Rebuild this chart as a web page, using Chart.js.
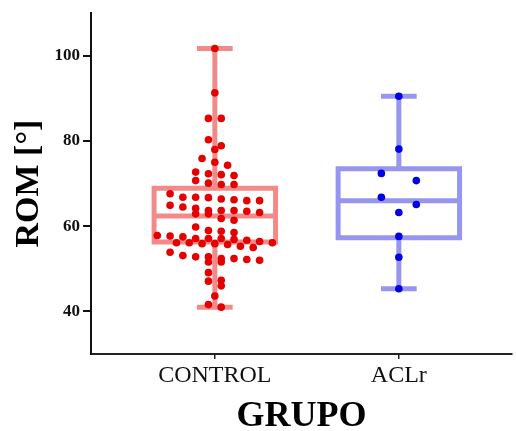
<!DOCTYPE html>
<html>
<head>
<meta charset="utf-8">
<script src="https://cdn.jsdelivr.net/npm/chart.js@4/dist/chart.umd.min.js"></script>
<style>
  html, body { margin: 0; padding: 0; background: #fff; }
  #wrap { width: 516px; height: 431px; }
</style>
</head>
<body>
<div id="wrap"><canvas id="c" width="516" height="431"></canvas></div>
<script>
// ---- data ----
const categories = ['CONTROL', 'ACLr'];
const yTicks = [40, 60, 80, 100];

const controlValues = [101.7, 91.3, 85.3, 85.3, 80.3, 78.9, 78.0, 75.9, 75.0, 74.3,
  72.7, 72.3, 72.1, 71.9, 70.7, 70.1, 69.8, 69.8,
  67.6, 66.8, 66.8, 66.7, 66.4, 66.2, 66.0, 66.0,
  64.9, 64.5, 64.2, 63.7, 63.7, 63.7, 63.5, 63.2,
  62.9, 62.9, 61.8, 61.4, 59.8, 59.0, 58.8, 58.5,
  57.8, 57.7, 57.5, 57.1, 57.1, 57.1, 56.9, 56.7,
  56.4, 56.1, 56.1, 56.1, 55.9, 55.9, 55.7, 55.3, 55.0, 53.9,
  53.1, 52.8, 52.8, 52.4, 52.4, 52.2, 52.0, 51.6, 51.6,
  49.1, 47.3, 47.1, 46.0, 43.6, 41.6, 41.0];
const aclrValues = [90.5, 78.1, 72.4, 70.7, 66.8, 65.1, 63.2, 57.6, 52.7, 45.3];

// box-plot summary (min, Q1, median, Q3, max) per group
const boxMin    = [41.0, 45.3];
const boxQ1     = [56.3, 57.3];
const boxMedian = [62.4, 66.0];
const boxQ3     = [68.9, 73.5];
const boxMax    = [101.7, 90.5];

// ---- styling ----
const lineColors  = ['rgb(242,138,138)', 'rgb(150,150,240)'];
const pointColors = ['rgb(228,0,0)', 'rgb(0,0,228)'];
const swarmSteps  = [0.0695, 0.19];
const BOX_HALF = 0.33, CAP_HALF = 0.097, ROW_BAND = 2.0, MAX_ROW = 10;

// row-centred swarm: values grouped into horizontal rows, each row centred on the group
function swarm(values, center, step) {
  const sorted = values.slice().sort((a, b) => b - a);
  const rows = [];
  let cur = [];
  sorted.forEach(v => {
    if (cur.length && (cur[0] - v >= ROW_BAND || cur.length >= MAX_ROW)) { rows.push(cur); cur = []; }
    cur.push(v);
  });
  if (cur.length) rows.push(cur);
  const pts = [];
  rows.forEach(r => r.forEach((v, i) => pts.push({ x: center + (i - (r.length - 1) / 2) * step, y: v })));
  return pts;
}

function boxDatasets(i) {
  const c = i + 1;
  const base = { type: 'scatter', showLine: true, pointRadius: 0, borderWidth: 5,
    borderColor: lineColors[i], backgroundColor: lineColors[i], fill: false,
    borderJoinStyle: 'miter', borderCapStyle: 'butt', order: 2 };
  return [
    Object.assign({}, base, { data: [
      { x: c - BOX_HALF, y: boxQ1[i] }, { x: c + BOX_HALF, y: boxQ1[i] },
      { x: c + BOX_HALF, y: boxQ3[i] }, { x: c - BOX_HALF, y: boxQ3[i] },
      { x: c - BOX_HALF, y: boxQ1[i] }, { x: c + BOX_HALF, y: boxQ1[i] }] }),
    Object.assign({}, base, { data: [{ x: c - BOX_HALF, y: boxMedian[i] }, { x: c + BOX_HALF, y: boxMedian[i] }] }),
    Object.assign({}, base, { data: [{ x: c, y: boxQ3[i] }, { x: c, y: boxMax[i] }] }),
    Object.assign({}, base, { data: [{ x: c, y: boxQ1[i] }, { x: c, y: boxMin[i] }] }),
    Object.assign({}, base, { data: [{ x: c - CAP_HALF, y: boxMax[i] }, { x: c + CAP_HALF, y: boxMax[i] }] }),
    Object.assign({}, base, { data: [{ x: c - CAP_HALF, y: boxMin[i] }, { x: c + CAP_HALF, y: boxMin[i] }] })
  ];
}

const groups = [controlValues, aclrValues];
const datasets = [];
groups.forEach((vals, i) => {
  datasets.push(...boxDatasets(i));
  datasets.push({ type: 'scatter', data: swarm(vals, i + 1, swarmSteps[i]), showLine: false,
    pointRadius: 3.8, pointBorderWidth: 0, pointBackgroundColor: pointColors[i],
    backgroundColor: pointColors[i], borderColor: pointColors[i], order: 0 });
});

const serif = "'Liberation Serif', 'Times New Roman', serif";

new Chart(document.getElementById('c'), {
  type: 'scatter',
  data: { datasets },
  options: {
    responsive: false,
    animation: false,
    events: [],
    layout: { padding: { left: 0, right: 1, top: 13, bottom: 0 } },
    plugins: { legend: { display: false }, tooltip: { enabled: false } },
    scales: {
      x: {
        type: 'linear', min: 0.327, max: 2.615,
        afterBuildTicks: s => { s.ticks = categories.map((_, i) => ({ value: i + 1 })); },
        afterFit: s => { s.height = 77; },
        ticks: { callback: v => categories[Math.round(v) - 1], color: '#111', padding: 2,
          maxRotation: 0, autoSkip: false, font: { family: serif, size: 24 } },
        grid: { display: true, drawOnChartArea: false, drawTicks: true, tickLength: 5, color: '#222', lineWidth: 1.5 },
        border: { display: true, color: '#222', width: 2 },
        title: { display: true, text: 'GRUPO', color: '#000', padding: { top: 0, bottom: 0 },
          font: { family: serif, size: 36, weight: 'bold', lineHeight: 0.8 } }
      },
      y: {
        type: 'linear', min: 30, max: 110,
        afterBuildTicks: s => { s.ticks = yTicks.map(v => ({ value: v })); },
        afterFit: s => { s.width = 91; },
        ticks: { color: '#111', padding: 3, font: { family: serif, size: 17, weight: 'bold' } },
        grid: { display: true, drawOnChartArea: false, drawTicks: true, tickLength: 8, color: '#111', lineWidth: 2 },
        border: { display: true, color: '#111', width: 2 },
        title: { display: true, text: 'ROM [°]', color: '#000', padding: { top: 12, bottom: 0 },
          font: { family: serif, size: 34, weight: 'bold', lineHeight: 1 } }
      }
    }
  }
});
</script>
</body>
</html>
